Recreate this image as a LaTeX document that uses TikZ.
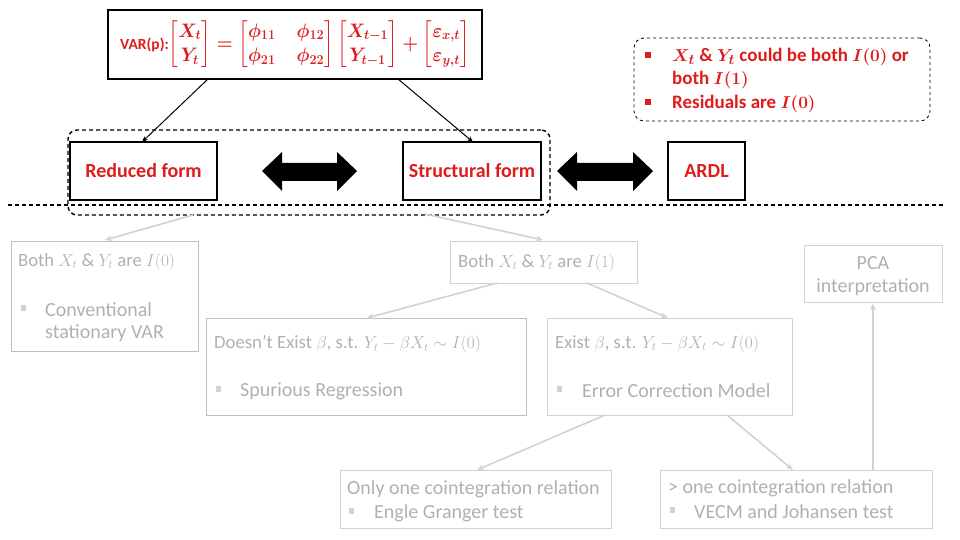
\documentclass[tikz,border=0pt]{standalone}
\usepackage{amsmath,bm,graphicx}
\usepackage{fontspec}
\setmainfont{Carlito}
\usetikzlibrary{arrows.meta}
\definecolor{vred}{RGB}{222,28,28}
\definecolor{gtxt}{RGB}{176,176,176}
\definecolor{gline}{RGB}{210,210,210}
\definecolor{gline2}{RGB}{190,190,190}
\newcommand{\rbul}{\rule[0.2em]{0.32em}{0.32em}}
\newcommand{\gbul}{\textcolor{gline}{\rule[0.2em]{0.26em}{0.26em}}}
\newsavebox{\varformulabox}
\newsavebox{\noteAbox}
\newsavebox{\noteBbox}
\newsavebox{\noteCbox}
\tikzset{
  bbox/.style={draw=black,line width=1.3pt,inner sep=0pt,text=vred,font=\fontsize{20}{24}\selectfont\bfseries},
  gbox/.style={draw=gline,line width=1.3pt,inner sep=0pt,anchor=north west},
  gt/.style={anchor=west,inner sep=0pt,text=gtxt,font=\fontsize{20}{24}\selectfont},
  gm/.style={gt,font=\fontsize{18.7}{22}\selectfont},
  rt/.style={anchor=west,inner sep=0pt,text=vred},
  garr/.style={draw=gline,line width=1.6pt,-{Stealth[length=7pt,width=6pt]}},
  karr/.style={draw=black,line width=1pt,-{Stealth[length=6pt,width=5pt]}},
  dbl/.style={fill=black},
  dashln/.style={draw=black,line width=1.4pt,dash pattern=on 4pt off 3pt}
}
\begin{document}
\sbox{\varformulabox}{\color{vred}\bfseries\fontsize{15.5}{18}\selectfont VAR(p):\scalebox{1.05}[1.13]{\fontsize{18.5}{22}\selectfont\boldmath$\begin{bmatrix}X_t\\ Y_t\end{bmatrix}=\begin{bmatrix}\phi_{11} & \hspace{10pt}\phi_{12}\\ \phi_{21} & \hspace{10pt}\phi_{22}\end{bmatrix}\begin{bmatrix}X_{t-1}\\ Y_{t-1}\end{bmatrix}+\begin{bmatrix}\varepsilon_{x,t}\\ \varepsilon_{y,t}\end{bmatrix}$}}%
\sbox{\noteAbox}{\color{vred}\bfseries\fontsize{19}{22}\selectfont\boldmath$X_t$ \& $Y_t$ could be both $I(0)$ or}%
\sbox{\noteBbox}{\color{vred}\bfseries\fontsize{19}{22}\selectfont\boldmath both $I(1)$}%
\sbox{\noteCbox}{\color{vred}\bfseries\fontsize{19}{22}\selectfont\boldmath Residuals are $I(0)$}%
\begin{tikzpicture}[x=1pt,y=-1pt]
\useasboundingbox (0,0) rectangle (960,540);
% VAR box
\node[draw=black,line width=1.3pt,inner sep=0pt,minimum width=374,minimum height=69] (var) at (295,44.5) {};
\node[inner sep=0pt] (vartext) at (var.center) {\usebox{\varformulabox}};
% note box
\node[draw=black,line width=0.8pt,dashed,rounded corners=10pt,minimum width=296,minimum height=83,inner sep=0pt] (note) at (782,79.5) {};
\node[rt,font=\fontsize{19}{22}\selectfont] (n1b) at (645,57) {\rbul};
\node[rt] (n1) at (672,57) {\usebox{\noteAbox}};
\node[rt] (n2) at (672,80) {\usebox{\noteBbox}};
\node[rt,font=\fontsize{19}{22}\selectfont] (n3b) at (645,104) {\rbul};
\node[rt] (n3) at (672,104) {\usebox{\noteCbox}};
% form boxes
\node[bbox,minimum width=147,minimum height=58] (red) at (143.5,171) {Reduced form};
\node[bbox,minimum width=138,minimum height=58] (str) at (472,171) {Structural form};
\node[bbox,minimum width=77,minimum height=58] (ardl) at (706.5,171) {ARDL};
% dashed group box and separator
\node[draw=black,line width=1.4pt,dash pattern=on 4pt off 3pt,rounded corners=9pt,minimum width=482,minimum height=85,inner sep=0pt] (grp) at (309,172.5) {};
\draw[dashln] (8,205) -- (945,205);
% VAR arrows
\coordinate (v1) at (208,79);
\coordinate (v2) at (398,79);
\draw[karr] (v1) -- (142,142);
\draw[karr] (v2) -- (473,142);
% double arrows
\fill[dbl] (262,171) -- (282,152) -- (282,163) -- (337,163) -- (337,152) -- (357,171) -- (337,191) -- (337,181) -- (282,181) -- (282,191) -- cycle;
\fill[dbl] (557,171) -- (577,152) -- (577,163) -- (633,163) -- (633,152) -- (653,171) -- (633,191) -- (633,181) -- (577,181) -- (577,191) -- cycle;
% gray boxes
\node[gbox,draw=gline2,minimum width=187,minimum height=110] (b0) at (11,241) {};
\node[gm] (b0t) at (18,262) {Both $X_t$ \& $Y_t$ are $I(0)$};
\node[gt] (b0b) at (21,310) {\gbul};
\node[gt] (b0c) at (45,310) {Conventional};
\node[gt] (b0d) at (45,333) {stationary VAR};
\node[gbox,minimum width=187,minimum height=42] (b1) at (450,241) {};
\node[gm] (b1t) at (458,263) {Both $X_t$ \& $Y_t$ are $I(1)$};
\node[gbox,minimum width=138,minimum height=57] (pca) at (804,245) {};
\node[gt,anchor=center] (pca1) at (873,263) {PCA};
\node[gt,anchor=center] (pca2) at (873,287) {interpretation};
\node[gbox,draw=gline2,minimum width=320,minimum height=97] (dn) at (206,318) {};
\node[gm] (dnt) at (214,344) {Doesn’t Exist $\beta$, s.t. $Y_t-\beta X_t\sim I(0)$};
\node[gt] (dnb) at (216,391) {\gbul};
\node[gt] (dnc) at (240,391) {Spurious Regression};
\node[gbox,minimum width=245,minimum height=97] (ex) at (547,318) {};
\node[gm] (ext) at (555,344) {Exist $\beta$, s.t. $Y_t-\beta X_t\sim I(0)$};
\node[gt] (exb) at (557,391) {\gbul};
\node[gt] (exc) at (582,391) {Error Correction Model};
\node[gbox,minimum width=271,minimum height=58] (eg) at (340,470) {};
\node[gt] (egt) at (347,489) {Only one cointegration relation};
\node[gt] (egb) at (349,513) {\gbul};
\node[gt] (egc) at (374,513) {Engle Granger test};
\node[gbox,minimum width=272,minimum height=58] (vc) at (660,470) {};
\node[gt] (vct) at (668,488) {> one cointegration relation};
\node[gt] (vcb) at (670,512) {\gbul};
\node[gt] (vcc) at (694,512) {VECM and Johansen test};
% gray connectors
\coordinate (g1) at (193,215);
\coordinate (g2) at (425,214);
\coordinate (g3) at (497,283);
\coordinate (g4) at (587,283);
\coordinate (g5) at (605,415);
\coordinate (g6) at (727,415);
\coordinate (g7) at (873,470);
\draw[garr] (g1) -- (105,240);
\draw[garr] (g2) -- (543,240);
\draw[garr] (g3) -- (367,318);
\draw[garr] (g4) -- (668,318);
\draw[garr] (g5) -- (477,470);
\draw[garr] (g6) -- (793,470);
\draw[garr] (g7) -- (pca.south -| g7);
\end{tikzpicture}
\end{document}
